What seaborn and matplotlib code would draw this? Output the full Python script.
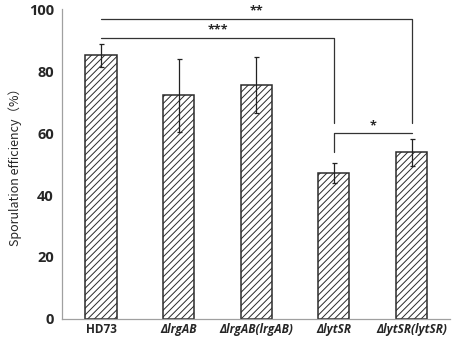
import numpy as np
import pandas as pd
import seaborn as sns
import matplotlib.pyplot as plt

# data
strains = ['HD73', 'ΔlrgAB', 'ΔlrgAB(lrgAB)', 'ΔlytSR', 'ΔlytSR(lytSR)']
efficiency = [85.1, 72.2, 75.6, 47.2, 53.8]
sd = [3.7, 11.7, 9.0, 3.2, 4.3]

y_ticks = [0, 20, 40, 60, 80, 100]

sns.set_style('white')
plt.rcParams['font.family'] = ['Open Sans', 'DejaVu Sans']
plt.rcParams['hatch.linewidth'] = 0.7

df = pd.DataFrame({'strain': strains, 'eff': efficiency})

fig = plt.figure(figsize=(4.54, 3.40), dpi=100)
ax = fig.add_axes([0.137, 0.062, 0.855, 0.911])

sns.barplot(data=df, x='strain', y='eff', ax=ax, color='white',
            edgecolor='#2b2b2b', linewidth=1.1, width=0.4,
            hatch='/////', errorbar=None)
# seaborn may desaturate; force white fill
for p in ax.patches:
    p.set_facecolor('white')
    p.set_edgecolor('#2b2b2b')

xpos = np.arange(len(strains))
ax.errorbar(xpos, efficiency, yerr=sd, fmt='none', ecolor='#222222',
            elinewidth=0.9, capsize=1.8, capthick=0.9)

ax.set_xlim(-0.5, len(strains) - 0.5)
ax.set_ylim(0, 100)
ax.set_yticks(y_ticks)
ax.set_yticklabels([str(t) for t in y_ticks], fontsize=10.5, fontweight='bold')

# category labels: tick marks sit between the bars
ax.set_xticks(xpos)
ax.set_xticklabels([])
ax.tick_params(axis='x', length=0)
ax.set_xticks(np.arange(-0.5, len(strains)), minor=True)
ax.tick_params(axis='x', which='minor', length=4, color='#9a9a9a', width=0.8, direction='out')
ax.tick_params(axis='y', length=4, color='#9a9a9a', width=0.8, direction='out', pad=2)
for i, s in enumerate(strains):
    italic = s.startswith('Δ')
    ax.text(i, -1.4, s, ha='center', va='top', fontsize=8.5, fontweight='bold',
            fontstyle='italic' if italic else 'normal', transform=ax.transData,
            clip_on=False)

ax.set_xlabel('')
ax.set_ylabel('Sporulation efficiency（%）', fontsize=9,
              family=['Noto Sans CJK SC', 'DejaVu Sans'], labelpad=5)

for side in ['top', 'right']:
    ax.spines[side].set_visible(False)
for side in ['left', 'bottom']:
    ax.spines[side].set_color('#a0a0a0')
    ax.spines[side].set_linewidth(0.9)

# significance brackets
lc = '#333333'
lw = 0.9
ax.plot([0, 4, 4], [96.8, 96.8, 63.2], color=lc, lw=lw, clip_on=False)
ax.text(2.0, 97.4, '**', ha='center', va='bottom', fontsize=9, fontweight='bold')
ax.plot([0, 3, 3], [90.7, 90.7, 63.2], color=lc, lw=lw, clip_on=False)
ax.text(1.5, 91.2, '***', ha='center', va='bottom', fontsize=9, fontweight='bold')
ax.plot([3, 3, 4], [53.9, 60.0, 60.0], color=lc, lw=lw, clip_on=False)
ax.text(3.5, 60.3, '*', ha='center', va='bottom', fontsize=9, fontweight='bold')

fig.savefig('out.png', dpi=100)
